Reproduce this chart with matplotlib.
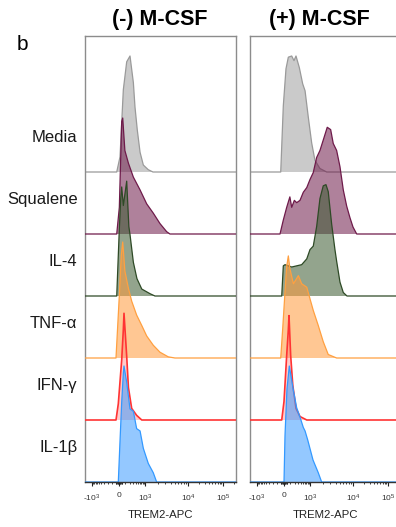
import numpy as np
import matplotlib
matplotlib.use("Agg")
import matplotlib.pyplot as plt

plt.rcParams["font.family"] = ["Liberation Sans", "DejaVu Sans"]
plt.rcParams["mathtext.fontset"] = "custom"
plt.rcParams["mathtext.rm"] = "Liberation Sans"
plt.rcParams["mathtext.it"] = "Liberation Sans:italic"
plt.rcParams["mathtext.bf"] = "Liberation Sans:bold"

# row names, top to bottom
samples = ["Media", "Squalene", "IL-4", "TNF-α", "IFN-γ", "IL-1β"]
row_labels = ["Media", "Squalene", "IL-4", "TNF-\u03b1", "IFN-\u03b3", "IL-1\u03b2"]
panel_titles = ["(-) M-CSF", "(+) M-CSF"]

# TREM2-APC intensity (x) and % of max (y)
# (-) M-CSF
media_neg_x = [-33, 15, 67, 127, 200, 297, 355, 455, 605, 845, 1190, 1535]
media_neg_y = [0, 13, 71, 95, 100, 77, 56, 36, 17, 6, 2, 0]
squalene_neg_x = [-33, 5, 41, 57, 93, 163, 297, 605, 1095, 1560, 2234, 3196, 3810]
squalene_neg_y = [0, 23, 97, 100, 72, 61, 49, 38, 26, 18, 9, 2, 0]
il4_neg_x = [-33, 5, 26, 41, 67, 127, 172, 200, 297, 437, 720, 1307, 1708]
il4_neg_y = [0, 58, 84, 94, 78, 99, 60, 53, 29, 15, 6, 2, 0]
tnf_neg_x = [-44, 5, 35, 57, 93, 163, 245, 424, 720, 1095, 1560, 2234, 3480, 4985]
tnf_neg_y = [0, 54, 89, 100, 75, 60, 49, 37, 28, 19, 11, 5, 1, 0]
ifn_neg_x = [-44, -10, 41, 67, 78, 127, 163, 245, 424, 720]
ifn_neg_y = [0, 14, 52, 78, 92, 55, 28, 10, 4, 0]
il1b_neg_x = [-10, 15, 41, 67, 78, 127, 200, 297, 424, 605, 845, 1193, 1560, 1870]
il1b_neg_y = [0, 35, 69, 94, 100, 86, 63, 61, 46, 44, 29, 16, 8, 0]

# (+) M-CSF
media_pos_x = [-48, -10, 30, 67, 127, 176, 226, 330, 473, 605, 845, 1095, 1307, 1708, 2445]
media_pos_y = [0, 57, 89, 99, 100, 96, 100, 90, 76, 70, 47, 25, 10, 3, 0]
squalene_pos_x = [-59, -10, 41, 93, 127, 184, 245, 355, 505, 720, 1000, 1193, 1432,
                  1708, 2039, 2526, 3030, 3480, 4172, 4985, 5950, 7140, 8510, 10000, 12750]
squalene_pos_y = [0, 12, 23, 32, 23, 29, 27, 29, 36, 40, 47, 53, 66,
                  72, 81, 92, 90, 78, 72, 58, 38, 24, 14, 6, 0]
il4_pos_x = [-33, -10, 15, 67, 127, 245, 424, 720, 1000, 1193, 1432, 1708, 2039,
             2356, 2662, 3196, 3810, 4172, 4985, 5950, 7250]
il4_pos_y = [0, 26, 27, 26, 25, 26, 27, 32, 40, 43, 60, 84, 95,
             96, 90, 62, 40, 30, 12, 3, 0]
tnf_pos_x = [-48, -19, 15, 41, 67, 93, 163, 297, 424, 720, 1000, 1193, 1560, 2039, 2662, 4172]
tnf_pos_y = [0, 25, 57, 79, 88, 77, 64, 71, 64, 61, 51, 41, 28, 14, 3, 0]
ifn_pos_x = [-33, 0, 41, 67, 78, 107, 149, 226, 355, 720]
ifn_pos_y = [0, 16, 56, 78, 90, 56, 30, 10, 3, 0]
il1b_pos_x = [0, 15, 45, 83, 163, 245, 355, 505, 605, 800, 1175, 1560, 1870]
il1b_pos_y = [0, 40, 80, 100, 79, 64, 56, 47, 44, 36, 19, 8, 0]

neg_curves = [(media_neg_x, media_neg_y), (squalene_neg_x, squalene_neg_y),
              (il4_neg_x, il4_neg_y), (tnf_neg_x, tnf_neg_y),
              (ifn_neg_x, ifn_neg_y), (il1b_neg_x, il1b_neg_y)]
pos_curves = [(media_pos_x, media_pos_y), (squalene_pos_x, squalene_pos_y),
              (il4_pos_x, il4_pos_y), (tnf_pos_x, tnf_pos_y),
              (ifn_pos_x, ifn_pos_y), (il1b_pos_x, il1b_pos_y)]

face_colors = ["#a0a0a0", "#6e1a4a", "#3a5a30", "#ff9a3a", "#ff6a6a", "#3d9bff"]
face_alpha = [0.55, 0.55, 0.55, 0.55, 0.35, 0.55]
edge_colors = ["#9a9a9a", "#6e1a4a", "#2e4a26", "#ffa040", "#ff3333", "#3399ff"]

tick_vals = [-1e3, 0, 1e3, 1e4, 1e5]
tick_labels = [r"-10$^3$", "0", r"10$^3$", r"10$^4$", r"10$^5$"]

# biexponential-like axis: asinh, then stretched to match the FlowJo decades
W = 150
anchor_x = np.array([-1e4, -1e3, 0, 1e3, 1e4, 1e5, 1e6])
anchor_pos = np.array([-60, -27, 0, 26, 69, 104, 139])
anchor_u = np.arcsinh(anchor_x / W)


def forward(x):
  return np.interp(np.arcsinh(np.asarray(x, dtype=float) / W), anchor_u, anchor_pos)


def inverse(p):
  return W * np.sinh(np.interp(np.asarray(p, dtype=float), anchor_pos, anchor_u))


x_min = float(inverse(-34))
x_max = float(inverse(117))
peak_height = 116 / 62  # in row units
n_rows = len(samples)

minor = ([-50, -40, -30, -20, -10, 10, 20, 30, 40, 50]
         + [-m * 100 for m in range(1, 10)] + [m * 100 for m in range(1, 10)]
         + [m * 1000 for m in range(2, 10)] + [m * 10000 for m in range(2, 10)] + [2e5])

fig = plt.figure(figsize=(3.96, 5.27), dpi=100)
ax_l = fig.add_axes([85 / 396, 45 / 527, 151 / 396, 446 / 527])
ax_r = fig.add_axes([250 / 396, 45 / 527, 151 / 396, 446 / 527])

for ax, curves in [(ax_l, neg_curves), (ax_r, pos_curves)]:
  ax.set_xscale("function", functions=(forward, inverse))
  for i, (cx, cy) in enumerate(curves):
    base = n_rows - 1 - i
    xs = np.concatenate([[x_min], cx, [x_max]])
    ys = base + np.concatenate([[0], cy, [0]]) / 100 * peak_height
    ax.fill_between(xs, base, ys, facecolor=face_colors[i], alpha=face_alpha[i],
                    lw=0, zorder=2 + i)
    ax.plot(xs, ys, color=edge_colors[i], lw=1.2 if i == 4 else 0.9, zorder=2.5 + i)
  ax.set_xlim(x_min, x_max)
  ax.set_ylim(0, 446 / 62)
  ax.set_yticks([])
  ax.set_xticks(tick_vals)
  ax.set_xticklabels(tick_labels, fontsize=6, color="#333333")
  ax.set_xticks(minor, minor=True)
  ax.tick_params(axis="x", which="major", length=3, width=0.8, pad=4.5, color="#222222")
  ax.tick_params(axis="x", which="minor", length=1.6, width=0.6, color="#222222")
  for side in ["top", "left", "right"]:
    ax.spines[side].set_color("#8c8c8c")
    ax.spines[side].set_linewidth(1.0)
  ax.spines["bottom"].set_color("#333333")
  ax.spines["bottom"].set_linewidth(1.0)
  ax.spines["bottom"].set_zorder(20)

for i, lab in enumerate(row_labels):
  base = n_rows - 1 - i
  ax_l.text(-0.05, base + 0.55, lab, transform=ax_l.get_yaxis_transform(),
            ha="right", va="center", fontsize=12, color="#1a1a1a")

fig.text(160 / 396, 1 - 25 / 527, panel_titles[0], ha="center", va="baseline",
         fontsize=15.5, fontweight="bold")
fig.text(319 / 396, 1 - 25 / 527, panel_titles[1], ha="center", va="baseline",
         fontsize=15.5, fontweight="bold")
fig.text(17 / 396, 1 - 50 / 527, "b", ha="left", va="baseline", fontsize=15)
fig.text(160 / 396, 1 - 518 / 527, "TREM2-APC", ha="center", va="baseline",
         fontsize=8.2, color="#222222")
fig.text(325 / 396, 1 - 518 / 527, "TREM2-APC", ha="center", va="baseline",
         fontsize=8.2, color="#222222")

fig.savefig("out.png", dpi=100)
